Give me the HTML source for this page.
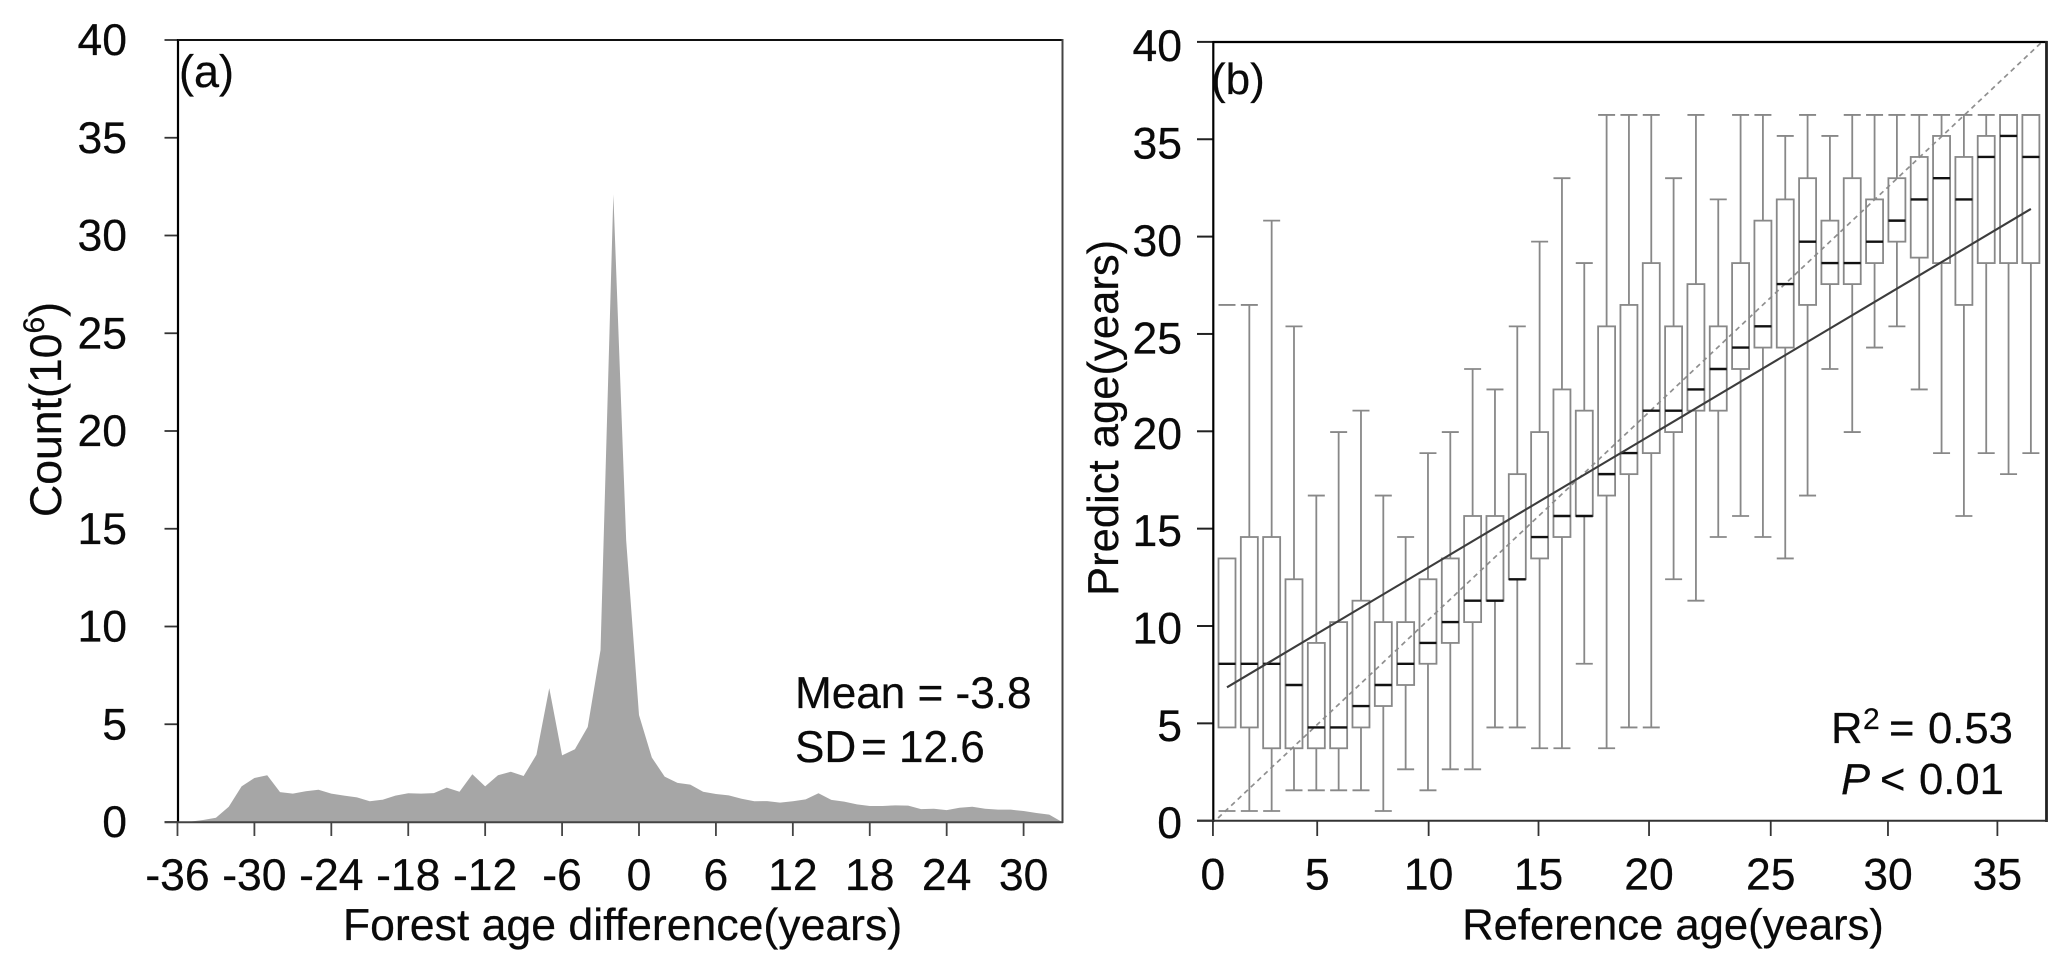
<!DOCTYPE html>
<html lang="en">
<head>
<meta charset="utf-8">
<title>Forest age difference and reference vs predicted age</title>
<style>
  html, body { margin: 0; padding: 0; background: #fff; }
  svg { display: block; }
  text { font-family: "Liberation Sans", Arial, sans-serif; fill: #0a0a0a; stroke: #0a0a0a; stroke-width: 0.25px; }
</style>
</head>
<body>
<svg id="figure" xmlns="http://www.w3.org/2000/svg" width="2067" height="974" viewBox="0 0 2067 974">
  <rect x="0" y="0" width="2067" height="974" fill="#ffffff"/>
  <g id="panel-a"></g>
  <g id="panel-b"></g>

  <text x="179" y="87" font-size="45">(a)</text>
  <text x="622.5" y="940" font-size="44.6" text-anchor="middle">Forest age difference(years)</text>
  <text transform="translate(61 517) rotate(-90)" font-size="44.6">Count(10<tspan font-size="30" dy="-17">6</tspan><tspan dy="17">)</tspan></text>
  <text x="795" y="708" font-size="44.1">Mean = -3.8</text>
  <text y="762" font-size="44.1"><tspan x="795">SD</tspan><tspan x="861">= 12.6</tspan></text>

  <text x="1211" y="94" font-size="44">(b)</text>
  <text x="1673" y="939.5" font-size="43.6" text-anchor="middle">Reference age(years)</text>
  <text transform="translate(1118 596) rotate(-90)" font-size="43.6">Predict age(years)</text>
  <text y="743" font-size="43.6"><tspan x="1831">R</tspan><tspan x="1863" y="729" font-size="30">2</tspan><tspan x="1889" y="743">=</tspan><tspan x="1928">0.53</tspan></text>
  <text y="794" font-size="43.6"><tspan x="1841" font-style="italic">P</tspan><tspan x="1880">&lt;</tspan><tspan x="1919">0.01</tspan></text>
</svg>

<script>
// ---- Panel (a): histogram area data ----
const diffYears = [-36,-35,-34,-33,-32,-31,-30,-29,-28,-27,-26,-25,-24,-23,-22,-21,-20,-19,-18,-17,-16,-15,-14,-13,-12,-11,-10,-9,-8,-7,-6,-5,-4,-3,-2,-1,0,1,2,3,4,5,6,7,8,9,10,11,12,13,14,15,16,17,18,19,20,21,22,23,24,25,26,27,28,29,30,31,32,33];
const diffCounts = [0,0.02,0.1,0.22,0.78,1.82,2.25,2.39,1.53,1.45,1.57,1.65,1.45,1.35,1.26,1.06,1.14,1.35,1.47,1.45,1.48,1.76,1.55,2.44,1.82,2.39,2.57,2.35,3.44,6.85,3.41,3.72,4.86,8.8,32.1,14.4,5.47,3.3,2.32,2.0,1.91,1.55,1.43,1.36,1.19,1.06,1.07,0.99,1.06,1.16,1.47,1.13,1.04,0.9,0.82,0.82,0.85,0.84,0.66,0.68,0.61,0.73,0.78,0.68,0.63,0.63,0.56,0.46,0.38,0];
const aXTicks = [-36,-30,-24,-18,-12,-6,0,6,12,18,24,30];
const aXTickLabels = ["-36","-30","-24","-18","-12","-6","0","6","12","18","24","30"];
const aYTicks = [0,5,10,15,20,25,30,35,40];
const aYTickLabels = ["0","5","10","15","20","25","30","35","40"];

// ---- Panel (b): box plot data (one entry per reference-age class) ----
const boxAges = [1,2,3,4,5,6,7,8,9,10,11,12,13,14,15,16,17,18,19,20,21,22,23,24,25,26,27,28,29,30,31,32,33,34,35,36,37];
const whiskerLow = [0.50,0.50,0.50,1.56,1.56,1.56,1.56,0.50,2.64,1.56,2.64,2.64,4.79,4.79,3.72,3.72,8.06,3.72,4.79,4.79,12.4,11.3,14.57,15.65,14.57,13.47,16.7,23.2,19.96,24.3,25.39,22.15,18.88,15.65,18.88,17.8,18.88];
const quartile1 = [4.79,4.79,3.72,3.72,3.72,3.72,4.79,5.89,6.97,8.06,9.13,10.2,11.3,12.4,13.47,14.57,15.65,16.7,17.8,18.88,19.96,21.06,21.06,23.2,24.3,24.3,26.49,27.56,27.56,28.64,29.74,28.92,28.64,26.49,28.64,28.64,28.64];
const medians = [8.06,8.06,8.06,6.97,4.79,4.79,5.89,6.97,8.06,9.13,10.2,11.3,11.3,12.4,14.57,15.65,15.65,17.8,18.88,21.06,21.06,22.15,23.2,24.3,25.39,27.56,29.74,28.64,28.64,29.74,30.82,31.91,33.0,31.91,34.09,35.17,34.09];
const quartile3 = [13.47,14.57,14.57,12.4,9.13,10.2,11.3,10.2,10.2,12.4,13.47,15.65,15.65,17.8,19.96,22.15,21.06,25.39,26.49,28.64,25.39,27.56,25.39,28.64,30.82,31.91,33.0,30.82,33.0,31.91,33.0,34.09,35.17,34.09,35.17,36.25,36.25];
const whiskerHigh = [26.49,26.49,30.82,25.39,16.7,19.96,21.06,16.7,14.57,18.88,19.96,23.2,22.15,25.39,29.74,33.0,28.64,36.25,36.25,36.25,33.0,36.25,31.91,36.25,36.25,35.17,36.25,35.17,36.25,36.25,36.25,36.25,36.25,36.25,36.25,36.25,36.25];
const agesWithoutStems = [1];
const regressionAges = [1,37];
const regressionPredicted = [6.85,31.42];
const identityAges = [0.6,37.5];
const identityPredicted = [0.14,40];
const bXTicks = [0.37,5.04,10.03,14.95,19.9,25.35,30.6,35.5];
const bXTickLabels = ["0","5","10","15","20","25","30","35"];
const bYTicks = [0,5,10,15,20,25,30,35,40];
const bYTickLabels = ["0","5","10","15","20","25","30","35","40"];

// ---- Axis functions ----
function xA(v) { return 639 + 12.82 * v; }
function yA(v) { return 822 - 19.55 * v; }
function xB(v) { return 1204.67 + 22.33 * v; }
function yB(v) { return 820.7 - 19.47 * v; }

const SVGNS = 'http://www.w3.org/2000/svg';
function mk(parent, tag, attrs) {
  const node = document.createElementNS(SVGNS, tag);
  for (const k in attrs) { node.setAttribute(k, attrs[k]); }
  parent.appendChild(node);
  return node;
}

// ---- Draw panel (a) ----
const pa = document.getElementById('panel-a');
const areaPts = [[xA(diffYears[0]), yA(0)]];
diffYears.forEach(function (yr, i) { areaPts.push([xA(yr), yA(diffCounts[i])]); });
areaPts.push([xA(diffYears[diffYears.length - 1]), yA(0)]);
const area = mk(pa, 'polygon', { points: areaPts.map(function (p) { return p[0].toFixed(2) + ',' + p[1].toFixed(2); }).join(' '), fill: '#a6a6a6', stroke: 'none' });



aYTicks.forEach(function (v, i) {
  const t = mk(pa, 'line', { x1: 164.5, x2: 178, y1: yA(v), y2: yA(v), stroke: '#333', 'stroke-width': 1.8 });
  
  
  const l = mk(pa, 'text', { x: 127, y: yA(v) + 15, 'font-size': 44.5, 'text-anchor': 'end' });
  l.textContent = aYTickLabels[i];
  
  
});
aXTicks.forEach(function (v, i) {
  const t = mk(pa, 'line', { x1: xA(v), x2: xA(v), y1: 822, y2: 836, stroke: '#444', 'stroke-width': 1.8 });
  
  
  const l = mk(pa, 'text', { x: xA(v), y: 890, 'font-size': 44.5, 'text-anchor': 'middle' });
  l.textContent = aXTickLabels[i];
  
  
});
const aLeft = mk(pa, 'line', { x1: 178, x2: 178, y1: 39, y2: 823, stroke: '#000', 'stroke-width': 2.2 });


const aTop = mk(pa, 'line', { x1: 178, x2: 1063, y1: 40, y2: 40, stroke: '#111', 'stroke-width': 2 });


const aRight = mk(pa, 'line', { x1: 1062.5, x2: 1062.5, y1: 39, y2: 823, stroke: '#444', 'stroke-width': 2 });


const aBottom = mk(pa, 'line', { x1: 164.5, x2: 1063, y1: 822.3, y2: 822.3, stroke: '#444', 'stroke-width': 2 });



// ---- Draw panel (b) ----
const pb = document.getElementById('panel-b');
const boxW = 17;
const BOX_GREY = '#888888';

const identity = mk(pb, 'line', { x1: xB(identityAges[0]), y1: yB(identityPredicted[0]), x2: xB(identityAges[1]), y2: yB(identityPredicted[1]), stroke: '#8f8f8f', 'stroke-width': 1.7, 'stroke-dasharray': '5 4' });



boxAges.forEach(function (age, i) {
  const cx = xB(age);
  const g = mk(pb, 'g', {});
  
  
  const stroke = { stroke: BOX_GREY, 'stroke-width': 1.8, fill: 'none' };
  if (agesWithoutStems.indexOf(age) < 0) {
    const upper = mk(g, 'line', Object.assign({ x1: cx, x2: cx, y1: yB(whiskerHigh[i]), y2: yB(quartile3[i]) }, stroke));
    
    
    const lower = mk(g, 'line', Object.assign({ x1: cx, x2: cx, y1: yB(quartile1[i]), y2: yB(whiskerLow[i]) }, stroke));
    
    
  }
  const capHi = mk(g, 'line', Object.assign({ x1: cx - boxW / 2, x2: cx + boxW / 2, y1: yB(whiskerHigh[i]), y2: yB(whiskerHigh[i]) }, stroke));
  
  
  const capLo = mk(g, 'line', Object.assign({ x1: cx - boxW / 2, x2: cx + boxW / 2, y1: yB(whiskerLow[i]), y2: yB(whiskerLow[i]) }, stroke));
  
  
  const rect = mk(g, 'rect', Object.assign({ x: cx - boxW / 2, width: boxW, y: yB(quartile3[i]), height: yB(quartile1[i]) - yB(quartile3[i]) }, stroke));
  
  
  const med = mk(g, 'line', { x1: cx - boxW / 2, x2: cx + boxW / 2, y1: yB(medians[i]), y2: yB(medians[i]), stroke: '#111', 'stroke-width': 2.4 });
  
  
});

const reg = mk(pb, 'line', { x1: xB(regressionAges[0]), y1: yB(regressionPredicted[0]), x2: xB(regressionAges[1]), y2: yB(regressionPredicted[1]), stroke: '#3c3c3c', 'stroke-width': 2.1 });



bYTicks.forEach(function (v, i) {
  const t = mk(pb, 'line', { x1: 1197, x2: 1213, y1: yB(v), y2: yB(v), stroke: '#222', 'stroke-width': 2 });
  
  
  const l = mk(pb, 'text', { x: 1182, y: yB(v) + (v >= 25 ? 19.3 : 17.5), 'font-size': 44.5, 'text-anchor': 'end' });
  l.textContent = bYTickLabels[i];
  
  
});
bXTicks.forEach(function (v, i) {
  const t = mk(pb, 'line', { x1: xB(v), x2: xB(v), y1: 821, y2: 836, stroke: '#333', 'stroke-width': 1.8 });
  
  
  const l = mk(pb, 'text', { x: xB(v), y: 889.5, 'font-size': 44.5, 'text-anchor': 'middle' });
  l.textContent = bXTickLabels[i];
  
  
});
const bLeft = mk(pb, 'line', { x1: 1213.3, x2: 1213.3, y1: 41, y2: 822, stroke: '#000', 'stroke-width': 2.2 });


const bTop = mk(pb, 'line', { x1: 1213, x2: 2047.5, y1: 42, y2: 42, stroke: '#000', 'stroke-width': 2.2 });


const bRight = mk(pb, 'line', { x1: 2046.5, x2: 2046.5, y1: 41, y2: 822, stroke: '#222', 'stroke-width': 2.8 });


const bBottom = mk(pb, 'line', { x1: 1197, x2: 2047.5, y1: 820.8, y2: 820.8, stroke: '#333', 'stroke-width': 2 });


</script>
</body>
</html>
